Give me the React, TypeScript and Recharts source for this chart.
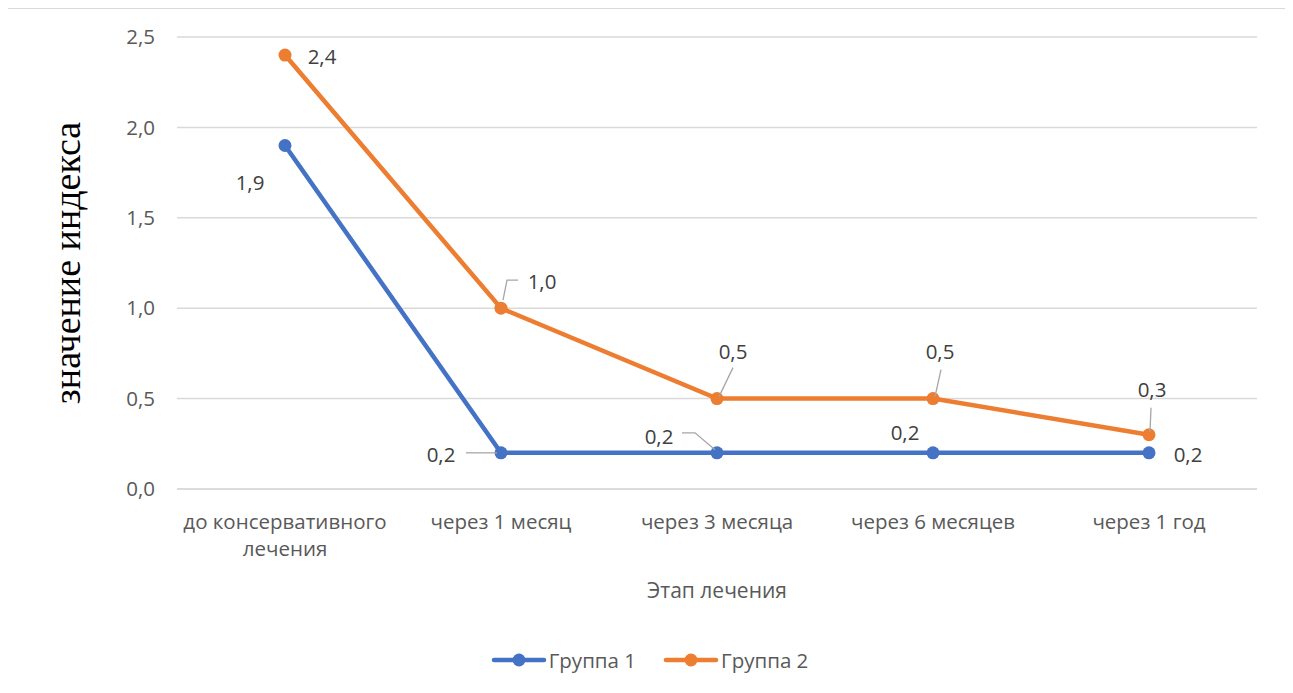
import React from 'react';
import { LineChart, Line, XAxis, YAxis, CartesianGrid, Legend, LabelList, Text } from 'recharts';

// Treatment stages (x categories)
const stages = [
  'до консервативного лечения',
  'через 1 месяц',
  'через 3 месяца',
  'через 6 месяцев',
  'через 1 год',
];

// Index values per group
const group1 = [1.9, 0.2, 0.2, 0.2, 0.2];
const group2 = [2.4, 1.0, 0.5, 0.5, 0.3];

const seriesNames = ['Группа 1', 'Группа 2'];
const yTicks = [0, 0.5, 1, 1.5, 2, 2.5];

const data = stages.map((stage, i) => ({ stage, g1: group1[i], g2: group2[i] }));

const BLUE = '#4472C4';
const ORANGE = '#ED7D31';
const TEXT = '#595959';
const GRID = '#d9d9d9';
const FONT = '"Open Sans", sans-serif';
const FS = 20.5;

const fmt = (v: number) => Number(v).toFixed(1).replace('.', ',');

// Label placement relative to each point, with optional leader line
type Place = { dx: number; dy: number; leader?: [number, number][] };

const group1Places: Place[] = [
  { dx: -35, dy: 37 },
  { dx: -60, dy: 2, leader: [[-35, 0], [-4, 0]] },
  { dx: -58, dy: -16, leader: [[-35, -20], [-22, -20], [-2, -3]] },
  { dx: -28, dy: -20 },
  { dx: 39, dy: 2 },
];

const group2Places: Place[] = [
  { dx: 37, dy: 2 },
  { dx: 41, dy: -27, leader: [[2, -8], [6, -28], [17, -28]] },
  { dx: 16, dy: -47, leader: [[2, -2], [16, -31]] },
  { dx: 7, dy: -47, leader: [[2, -2], [8, -29]] },
  { dx: 3, dy: -45, leader: [[1, -3], [2, -27]] },
];

const makeLabel = (places: Place[]) => (props: any) => {
  const vb = props.viewBox || {};
  const x = props.x ?? vb.x;
  const y = props.y ?? vb.y;
  const p = places[props.index];
  if (x == null || y == null || !p) return null;
  return (
    <g>
      {p.leader && (
        <polyline
          points={p.leader.map(([a, b]) => `${x + a},${y + b}`).join(' ')}
          fill="none"
          stroke="#a6a6a6"
          strokeWidth={1.3}
        />
      )}
      <text
        x={x + p.dx}
        y={y + p.dy}
        dy="0.36em"
        textAnchor="middle"
        fill="#404040"
        fontFamily={FONT}
        fontSize={FS}
      >
        {fmt(props.value)}
      </text>
    </g>
  );
};

const StageTick = (props: any) => {
  const { x, y, payload } = props;
  return (
    <Text
      x={x}
      y={y + 17}
      width={215}
      textAnchor="middle"
      verticalAnchor="start"
      lineHeight={27}
      fill={TEXT}
      style={{ fontFamily: FONT, fontSize: FS }}
    >
      {payload.value}
    </Text>
  );
};

const XTitle = (props: any) => {
  const vb = props.viewBox || {};
  return (
    <text
      x={vb.x + vb.width / 2}
      y={vb.y + 101}
      dy="0.36em"
      textAnchor="middle"
      fill={TEXT}
      fontFamily={FONT}
      fontSize={21}
    >
      Этап лечения
    </text>
  );
};

const YTitle = (props: any) => {
  const vb = props.viewBox || {};
  const cx = 72;
  const cy = vb.y + vb.height / 2;
  return (
    <text
      x={cx}
      y={cy}
      textAnchor="middle"
      transform={`rotate(-90, ${cx}, ${cy})`}
      fill="#000"
      fontFamily='"Liberation Serif", "Times New Roman", serif'
      fontSize={38}
    >
      значение индекса
    </text>
  );
};

const LegendContent = (props: any) => {
  const items = props.payload || [];
  return (
    <div style={{ display: 'flex', justifyContent: 'center', alignItems: 'center', height: 36, paddingRight: 8 }}>
      {items.map((it: any, i: number) => (
        <div key={i} style={{ display: 'flex', alignItems: 'center', marginRight: 27 }}>
          <svg width={56} height={20}>
            <line x1={3} y1={10} x2={53} y2={10} stroke={it.color} strokeWidth={4.5} strokeLinecap="round" />
            <circle cx={28} cy={10} r={6.5} fill={it.color} />
          </svg>
          <span style={{ fontFamily: FONT, fontSize: FS, color: TEXT, marginLeft: 2 }}>{it.value}</span>
        </div>
      ))}
    </div>
  );
};

export default function App() {
  return (
    <div
      style={{
        width: 1281,
        height: 700,
        border: `1px solid ${GRID}`,
        boxSizing: 'border-box',
        marginLeft: -1,
        background: '#fff',
      }}
    >
      <LineChart
        width={1279}
        height={698}
        data={data}
        margin={{ top: 28, right: 30, bottom: 29, left: 69 }}
      >
        <CartesianGrid vertical={false} stroke={GRID} strokeWidth={1.5} />
        <XAxis
          dataKey="stage"
          height={153}
          padding={{ left: 108, right: 108 }}
          tickLine={false}
          axisLine={{ stroke: GRID, strokeWidth: 1.5 }}
          tick={<StageTick />}
          interval={0}
          label={<XTitle />}
        />
        <YAxis
          width={100}
          domain={[0, 2.5]}
          ticks={yTicks}
          tickFormatter={fmt}
          tickLine={false}
          axisLine={false}
          tickMargin={16}
          tick={{ fill: TEXT, fontFamily: FONT, fontSize: FS }}
          label={<YTitle />}
        />
        <Legend verticalAlign="bottom" content={<LegendContent />} />
        <Line
          type="linear"
          dataKey="g1"
          name={seriesNames[0]}
          stroke={BLUE}
          strokeWidth={4.5}
          dot={{ r: 6.5, fill: BLUE, stroke: 'none' }}
          activeDot={false}
          isAnimationActive={false}
        >
          <LabelList dataKey="g1" content={makeLabel(group1Places)} />
        </Line>
        <Line
          type="linear"
          dataKey="g2"
          name={seriesNames[1]}
          stroke={ORANGE}
          strokeWidth={4.5}
          dot={{ r: 6.5, fill: ORANGE, stroke: 'none' }}
          activeDot={false}
          isAnimationActive={false}
        >
          <LabelList dataKey="g2" content={makeLabel(group2Places)} />
        </Line>
      </LineChart>
    </div>
  );
}
